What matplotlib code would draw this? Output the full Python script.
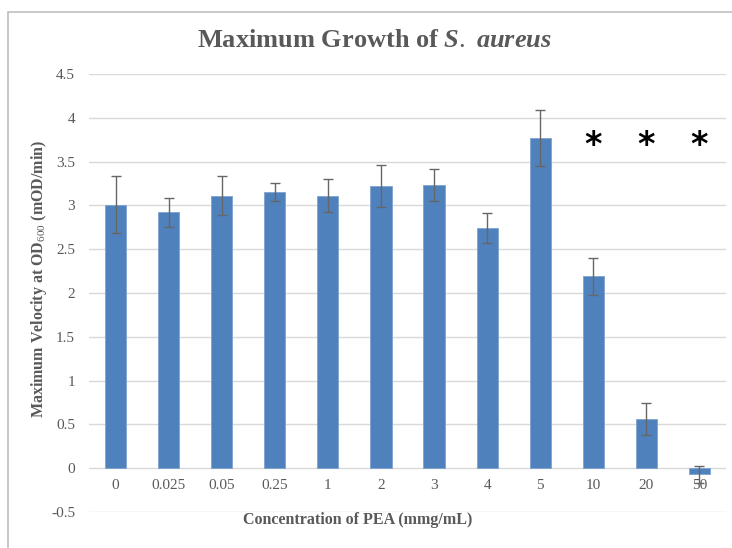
import numpy as np
import matplotlib
matplotlib.use('Agg')
import matplotlib.pyplot as plt
from matplotlib.patches import Rectangle

concentrations = ['0', '0.025', '0.05', '0.25', '1', '2', '3', '4', '5', '10', '20', '50']
velocity = [3.01, 2.92, 3.11, 3.15, 3.11, 3.22, 3.23, 2.74, 3.77, 2.19, 0.56, -0.07]
errors = [0.33, 0.165, 0.22, 0.10, 0.19, 0.24, 0.18, 0.17, 0.32, 0.21, 0.18, 0.10]
significant = ['10', '20', '50']
star_level = 3.68

plt.rcParams['font.family'] = ['Liberation Serif', 'DejaVu Serif']
plt.rcParams['mathtext.fontset'] = 'custom'
plt.rcParams['mathtext.rm'] = 'Liberation Serif'
plt.rcParams['mathtext.it'] = 'Liberation Serif:italic:bold'
plt.rcParams['mathtext.bf'] = 'Liberation Serif:bold'
grey = '#595959'

fig = plt.figure(figsize=(7.32, 5.48), dpi=100)
ax = fig.add_axes([0.1216, 0.0657, 0.8702, 0.7993])

x = np.arange(len(concentrations))
ax.bar(x, velocity, width=0.4, color='#4F81BD', edgecolor='#7FA3D0', linewidth=0.6, zorder=3)
ax.errorbar(x, velocity, yerr=errors, fmt='none', ecolor='#666666', elinewidth=1,
            capsize=3.5, capthick=1, zorder=4)

# asterisks over the significant groups
for c in significant:
    i = concentrations.index(c)
    ax.text(i, star_level, '*', ha='center', va='center', fontsize=24,
            fontweight='bold', family='DejaVu Sans', color='black', zorder=5)

ax.set_xlim(-0.5, len(concentrations) - 0.5)
ax.set_ylim(-0.5, 4.5)
ax.set_yticks(np.arange(-0.5, 4.51, 0.5))
ax.set_yticklabels(['-0.5', '0', '0.5', '1', '1.5', '2', '2.5', '3', '3.5', '4', '4.5'])
ax.set_xticks(x)
ax.set_xticklabels(concentrations)
# category labels sit at the zero line, like Excel
ax.spines['bottom'].set_position(('data', 0))
ax.tick_params(axis='both', length=0, labelsize=11, labelcolor=grey)
ax.tick_params(axis='y', pad=10)
ax.tick_params(axis='x', pad=8)
ax.grid(axis='y', color='#D9D9D9', linewidth=1, zorder=0)
for s in ax.spines.values():
    s.set_visible(False)

fig.text(0.488, 0.051, 'Concentration of PEA (mmg/mL)', ha='center', va='center',
         fontsize=11.5, fontweight='bold', color=grey)
fig.text(0.053, 0.491, 'Maximum Velocity at OD$_{\\mathrm{600}}$ (mOD/min)', ha='center',
         va='center', rotation=90, fontsize=11.5, fontweight='bold', color=grey)

fig.text(0.512, 0.927, 'Maximum Growth of $S.\\ aureus$', ha='center', va='center',
         fontsize=19, fontweight='bold', color=grey)

# chart frame
fig.patches.append(Rectangle((8 / 732, -0.1), 1.2, 1.1 - 12 / 548, transform=fig.transFigure,
                             fill=False, edgecolor='#BFBFBF', linewidth=1.2))

fig.savefig('out.png', dpi=100)
